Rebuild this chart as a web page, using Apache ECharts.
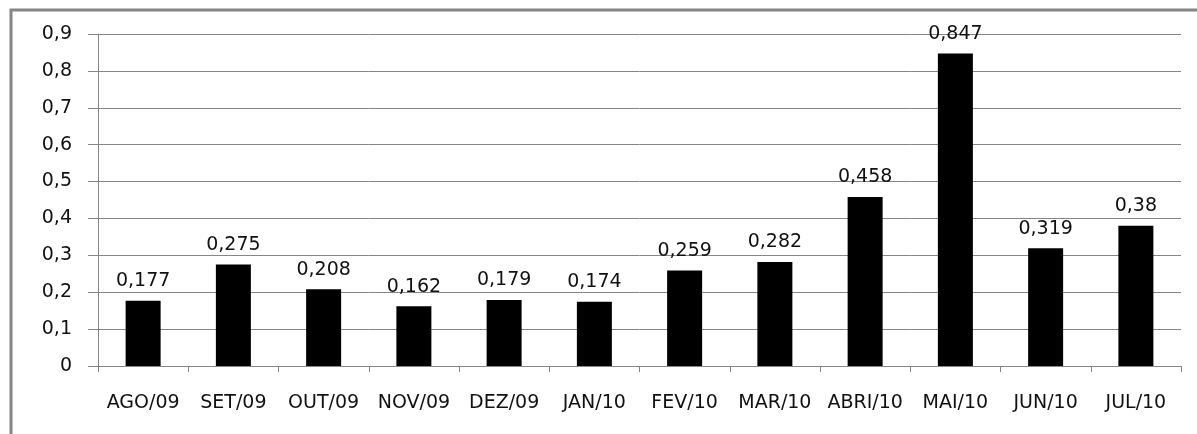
<!DOCTYPE html>
<html>
<head>
<meta charset="utf-8">
<script src="https://cdn.jsdelivr.net/npm/echarts@6/dist/echarts.min.js"></script>
<style>
  html, body { margin: 0; padding: 0; background: #fff; }
  #chart { width: 1197px; height: 434px; }
</style>
</head>
<body>
<div id="chart"></div>
<script>
// meses e valores
const months = ['AGO/09', 'SET/09', 'OUT/09', 'NOV/09', 'DEZ/09', 'JAN/10',
  'FEV/10', 'MAR/10', 'ABRI/10', 'MAI/10', 'JUN/10', 'JUL/10']
const values = [0.177, 0.275, 0.208, 0.162, 0.179, 0.174,
  0.259, 0.282, 0.458, 0.847, 0.319, 0.38]

const gray = '#868686'
const font = 'DejaVu Sans'

// vírgula como separador decimal
function comma (v) {
  return String(Math.round(v * 1000) / 1000).replace('.', ',')
}

const chart = echarts.init(document.getElementById('chart'))

chart.setOption({
  animation: false,
  backgroundColor: '#fff',
  graphic: [{
    type: 'rect',
    shape: { x: 11, y: 10, width: 1400, height: 600 },
    style: { fill: 'none', stroke: gray, lineWidth: 3 },
    silent: true,
  }],
  grid: { left: 98, right: 16, top: 34, bottom: 68 },
  xAxis: {
    type: 'category',
    data: months,
    axisLine: { lineStyle: { color: gray, width: 1 } },
    axisTick: { show: true, length: 6, lineStyle: { color: gray } },
    axisLabel: {
      color: '#111',
      fontFamily: font,
      fontSize: 19,
      margin: 28,
      interval: 0,
    },
  },
  yAxis: {
    type: 'value',
    min: 0,
    max: 0.9,
    interval: 0.1,
    axisLine: { show: true, lineStyle: { color: gray, width: 1 } },
    axisTick: { show: true, length: 10, lineStyle: { color: gray } },
    splitLine: { lineStyle: { color: gray, width: 1 } },
    axisLabel: {
      color: '#111',
      fontFamily: font,
      fontSize: 19,
      margin: 26,
      formatter: v => comma(v),
    },
  },
  series: [{
    type: 'bar',
    data: values,
    barWidth: 35,
    itemStyle: { color: '#000' },
    label: {
      show: true,
      position: 'top',
      distance: 10,
      color: '#111',
      fontFamily: font,
      fontSize: 19,
      formatter: p => comma(p.value),
    },
  }],
})
</script>
</body>
</html>
